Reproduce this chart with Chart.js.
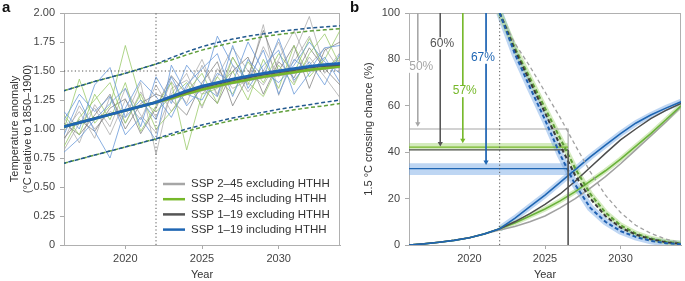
<!DOCTYPE html>
<html>
<head>
<meta charset="utf-8">
<script src="https://cdn.jsdelivr.net/npm/chart.js@4.4.0/dist/chart.umd.min.js"></script>
<style>
  html, body { margin: 0; padding: 0; background: #fff; }
  #wrap { position: relative; width: 685px; height: 281px; overflow: hidden; }
  #chartA { position: absolute; left: 0; top: 0; }
  #chartB { position: absolute; left: 345px; top: 0; }
  .tag { position: absolute; top: -2px; font: bold 15px "Liberation Sans", Arial, sans-serif; color: #111; }
</style>
</head>
<body>
<div id="wrap">
  <canvas id="chartA" width="345" height="281"></canvas>
  <canvas id="chartB" width="340" height="281"></canvas>
  <div class="tag" style="left:2px">a</div>
  <div class="tag" style="left:350px">b</div>
</div>
<script>
// ---- shared ----
const years = [2016, 2017, 2018, 2019, 2020, 2021, 2022, 2023, 2024, 2025, 2026, 2027, 2028, 2029, 2030, 2031, 2032, 2033, 2034];
const futureYears = [2022, 2023, 2024, 2025, 2026, 2027, 2028, 2029, 2030, 2031, 2032, 2033, 2034];
const xTicks = [2020, 2025, 2030];
const eruptionYear = 2022;

// ---- panel a: temperature anomaly ----
const lightGrayMembers = [
  [0.98, 1.15, 0.92, 1.28, 1.05, 1.32, 1.10, 1.41, 1.22, 1.55, 1.30, 1.62, 1.38, 1.71, 1.45, 1.58, 1.80, 1.48, 1.66],
  [1.10, 0.88, 1.21, 1.02, 1.35, 1.12, 0.97, 1.30, 1.48, 1.18, 1.52, 1.35, 1.42, 1.90, 1.29, 1.65, 1.97, 1.52, 1.60],
  [0.82, 1.05, 1.18, 0.95, 1.25, 1.08, 1.38, 1.15, 1.35, 1.60, 1.28, 1.55, 1.32, 1.50, 1.75, 1.40, 1.62, 1.45, 1.27],
  [0.90, 1.20, 1.00, 1.15, 1.10, 1.40, 0.78, 1.35, 1.42, 1.30, 1.45, 1.70, 1.50, 1.38, 1.60, 1.85, 1.55, 1.70, 1.50]
];
const darkGrayMembers = [
  [1.05, 0.95, 1.12, 1.30, 1.00, 1.22, 1.30, 1.25, 1.12, 1.40, 1.58, 1.20, 1.45, 1.85, 1.50, 1.72, 1.35, 1.68, 1.75],
  [0.92, 1.08, 0.98, 1.18, 1.26, 0.96, 1.18, 1.46, 1.30, 1.36, 1.22, 1.50, 1.62, 1.30, 1.58, 1.44, 1.70, 1.52, 1.38]
];
const greenMembers = [
  [1.00, 1.43, 1.05, 1.20, 1.72, 1.25, 1.15, 1.28, 1.40, 1.20, 1.45, 1.30, 1.58, 1.40, 1.65, 1.48, 1.78, 1.52, 1.62],
  [1.12, 0.95, 1.30, 1.08, 1.40, 0.98, 1.20, 1.40, 0.82, 1.30, 1.35, 1.50, 1.25, 1.60, 1.35, 1.72, 1.45, 1.60, 1.85],
  [0.85, 1.10, 1.25, 1.40, 1.05, 1.30, 1.00, 1.15, 1.32, 1.48, 1.22, 1.62, 1.40, 1.28, 1.55, 1.38, 1.65, 1.82, 1.55]
];
const blueMembers = [
  [1.15, 1.00, 1.38, 1.53, 1.10, 1.25, 1.08, 1.45, 1.20, 1.35, 1.80, 1.55, 1.42, 1.68, 1.30, 1.60, 1.50, 1.70, 1.72],
  [0.95, 1.25, 0.98, 0.75, 1.18, 1.42, 1.28, 1.10, 1.38, 1.52, 1.65, 1.28, 1.60, 1.45, 1.78, 1.42, 1.58, 1.38, 1.65],
  [1.08, 1.30, 1.15, 1.28, 0.95, 1.10, 0.90, 1.55, 1.30, 1.25, 1.48, 1.40, 1.75, 1.50, 1.40, 1.55, 1.75, 1.58, 1.48],
  [0.80, 0.92, 1.08, 1.22, 1.35, 1.02, 1.45, 1.22, 1.55, 1.38, 1.28, 1.72, 1.35, 1.55, 1.68, 1.30, 1.48, 1.62, 1.40]
];
const meanLightGray = [1.02, 1.055, 1.09, 1.125, 1.16, 1.195, 1.23, 1.26, 1.30, 1.335, 1.365, 1.395, 1.42, 1.445, 1.465, 1.485, 1.505, 1.52, 1.535];
const meanGreen     = [1.02, 1.055, 1.09, 1.125, 1.16, 1.195, 1.23, 1.265, 1.305, 1.34, 1.37, 1.40, 1.425, 1.45, 1.47, 1.49, 1.51, 1.525, 1.54];
const meanDarkGray  = [1.02, 1.055, 1.09, 1.125, 1.16, 1.195, 1.23, 1.275, 1.32, 1.36, 1.39, 1.42, 1.445, 1.47, 1.49, 1.51, 1.53, 1.545, 1.555];
const meanBlue      = [1.02, 1.055, 1.09, 1.125, 1.16, 1.195, 1.23, 1.28, 1.33, 1.37, 1.40, 1.43, 1.455, 1.48, 1.50, 1.52, 1.54, 1.555, 1.565];
const upperBlue  = [1.33, 1.37, 1.41, 1.445, 1.48, 1.52, 1.56, 1.615, 1.665, 1.71, 1.745, 1.775, 1.80, 1.82, 1.84, 1.855, 1.87, 1.88, 1.89];
const upperGreen = [1.33, 1.37, 1.41, 1.445, 1.48, 1.52, 1.56, 1.595, 1.64, 1.68, 1.715, 1.745, 1.77, 1.795, 1.815, 1.83, 1.845, 1.855, 1.865];
const lowerBlue  = [0.705, 0.74, 0.775, 0.81, 0.845, 0.88, 0.915, 0.96, 1.00, 1.035, 1.065, 1.095, 1.12, 1.145, 1.17, 1.19, 1.21, 1.23, 1.25];
const lowerGreen = [0.705, 0.74, 0.775, 0.81, 0.845, 0.88, 0.915, 0.945, 0.98, 1.015, 1.045, 1.075, 1.10, 1.125, 1.145, 1.165, 1.185, 1.20, 1.22];
const targetLevel = 1.5;
const legendLabels = ['SSP 2\u201345 excluding HTHH', 'SSP 2\u201345 including HTHH', 'SSP 1\u201319 excluding HTHH', 'SSP 1\u201319 including HTHH'];
const legendColors = ['#a6a6a6', '#76b82a', '#555555', '#1f66b3'];

// ---- panel b: crossing chance ----
const riseBlue  = [0, 0.5, 1.2, 2.0, 3.1, 4.8, 7, 11.5, 16.5, 21.5, 27, 32.5, 38, 43, 48, 52.5, 56, 59, 61.7];
const riseDark  = [0, 0.5, 1.2, 2.0, 3.1, 4.8, 7, 10, 13.5, 17.5, 22, 27.5, 33.5, 39.5, 45.3, 50, 54.5, 58, 61];
const riseGreen = [0, 0.5, 1.2, 2.0, 3.1, 4.8, 7, 9.5, 12.5, 15.5, 19, 23, 27.5, 32, 37, 42.5, 48, 54, 60];
const riseGray  = [0, 0.5, 1.2, 2.0, 3.1, 4.8, 6.5, 8, 10, 12.5, 16, 20, 24.5, 29.5, 35, 41, 47, 53, 59.5];
const fallBlue  = [100, 82.5, 68, 54, 39, 26, 16, 10, 6, 3.5, 1.8, 0.8, 0.3];
const fallDark  = [100, 84, 70.5, 57, 43, 30, 20, 12.5, 7.5, 4.5, 2.5, 1.2, 0.5];
const fallGreen = [100, 85, 72, 59, 46, 33, 22, 14, 8.5, 5, 2.8, 1.4, 0.6];
const fallGray  = [100, 87, 77, 66, 55, 43, 31.5, 21.5, 14, 8.5, 5, 2.5, 1];
const crossingYear = 2026.53;
const levelGray = 50, levelGreen = 42.2, levelDark = 41, levelBlue = 32.9;
const bandGreen = [40.8, 44.0];
const bandBlue = [30.2, 35.2];
const arrowYears = [2016.58, 2018.07, 2019.56, 2021.1];
const arrowEnds = [52.3, 43.8, 45.2, 35.8];
const arrowColors = ['#a6a6a6', '#555555', '#76b82a', '#1f66b3'];
const pctLabels = ['50%', '60%', '57%', '67%'];
const pctYears = [2016.81, 2018.19, 2019.69, 2020.89];
const pctValues = [76.8, 86.9, 66.3, 80.7];

Chart.defaults.font.family = '"Liberation Sans", Arial, sans-serif';
Chart.defaults.font.size = 11;
Chart.defaults.color = '#444';
Chart.defaults.animation = false;

function pts(xs, ys) { return ys.map((v, i) => ({ x: xs[i], y: v })); }
function line(data, color, width, extra) {
  return Object.assign({ data: data, borderColor: color, borderWidth: width, pointRadius: 0, fill: false, tension: 0 }, extra || {});
}
function stack(layers) { layers.forEach((d, i) => { d.order = layers.length - i; }); return layers; }

const framePlugin = {
  id: 'frame',
  beforeDatasetsDraw(chart) {
    const { ctx, chartArea: a } = chart;
    ctx.save();
    ctx.strokeStyle = '#b0b0b0';
    ctx.lineWidth = 1;
    ctx.strokeRect(Math.round(a.left) + 0.5, Math.round(a.top) + 0.5, Math.round(a.right - a.left) - 1, Math.round(a.bottom - a.top));
    ctx.restore();
  }
};

function axes(yMin, yMax, step, yTitle, yTitlePad, yFmt) {
  return {
    x: {
      type: 'linear', min: 2016, max: 2034,
      afterBuildTicks: s => { s.ticks = xTicks.map(v => ({ value: v })); },
      afterFit: s => { s.height = 36; },
      grid: { display: true, drawOnChartArea: false, drawTicks: true, tickLength: 4, color: '#aaa' },
      border: { display: true, color: '#aaa' },
      ticks: { padding: 3, callback: v => String(v) },
      title: { display: true, text: 'Year', padding: { top: 0, bottom: -1 }, color: '#333' }
    },
    y: {
      min: yMin, max: yMax,
      afterFit: s => { s.width = 64; },
      grid: { display: true, drawOnChartArea: false, drawTicks: true, tickLength: 4, color: '#aaa' },
      border: { display: true, color: '#aaa' },
      ticks: { stepSize: step, padding: 5, callback: yFmt },
      title: { display: true, text: yTitle, padding: { top: yTitlePad, bottom: 0 }, color: '#333' }
    }
  };
}

// ---- build panel a ----
const dsA = [];
lightGrayMembers.forEach(m => dsA.push(line(pts(years, m), 'rgba(170,170,170,0.85)', 0.9)));
darkGrayMembers.forEach(m => dsA.push(line(pts(years, m), 'rgba(120,120,120,0.8)', 0.9)));
greenMembers.forEach(m => dsA.push(line(pts(years, m), 'rgba(150,200,100,0.85)', 0.9)));
blueMembers.forEach(m => dsA.push(line(pts(years, m), 'rgba(100,150,215,0.85)', 0.9)));
dsA.push(line([{ x: 2016, y: targetLevel }, { x: 2034, y: targetLevel }], '#555', 1, { borderDash: [1.2, 2.4] }));
dsA.push(line([{ x: eruptionYear, y: 0 }, { x: eruptionYear, y: 2 }], '#555', 1, { borderDash: [1.2, 2.4] }));
dsA.push(line(pts(years, upperGreen), '#5f9e3a', 1.5, { borderDash: [4, 2.5] }));
dsA.push(line(pts(years, lowerGreen), '#5f9e3a', 1.5, { borderDash: [4, 2.5] }));
dsA.push(line(pts(years, upperBlue), '#22598f', 1.5, { borderDash: [4, 2.5], borderDashOffset: 2 }));
dsA.push(line(pts(years, lowerBlue), '#22598f', 1.5, { borderDash: [4, 2.5], borderDashOffset: 2 }));
dsA.push(line(pts(years, meanLightGray), '#a6a6a6', 2.2));
dsA.push(line(pts(years, meanGreen), '#76b82a', 2.6));
dsA.push(line(pts(years, meanDarkGray), '#555555', 2.2));
dsA.push(line(pts(years, meanBlue), '#1f66b3', 2.8));
stack(dsA);

const legendPlugin = {
  id: 'insideLegend',
  afterDatasetsDraw(chart) {
    const ctx = chart.ctx;
    ctx.save();
    ctx.font = '11.5px "Liberation Sans", Arial, sans-serif';
    ctx.textBaseline = 'middle';
    legendLabels.forEach((t, i) => {
      const y = 184 + i * 15.2;
      ctx.strokeStyle = legendColors[i];
      ctx.lineWidth = 2.5;
      ctx.beginPath(); ctx.moveTo(163, y); ctx.lineTo(185, y); ctx.stroke();
      ctx.fillStyle = '#333';
      ctx.fillText(t, 191, y);
    });
    ctx.restore();
  }
};

new Chart(document.getElementById('chartA'), {
  type: 'line',
  data: { datasets: dsA },
  options: {
    responsive: false,
    layout: { padding: { top: 13, right: 5, left: 0, bottom: 0 } },
    plugins: { legend: { display: false }, tooltip: { enabled: false } },
    scales: axes(0, 2, 0.25, ['Temperature anomaly', '(\u00b0C relative to 1850\u20131900)'], 8, v => v === 0 ? '0' : v.toFixed(2))
  },
  plugins: [framePlugin, legendPlugin]
});

// ---- build panel b ----
const lightBlue = 'rgba(110,165,228,0.45)';
const lightGreen = 'rgba(160,210,110,0.45)';
const dsB = [];
dsB.push(line([{ x: 2016, y: bandBlue[0] }, { x: crossingYear, y: bandBlue[0] }], 'rgba(0,0,0,0)', 0));
dsB.push(line([{ x: 2016, y: bandBlue[1] }, { x: crossingYear, y: bandBlue[1] }], 'rgba(0,0,0,0)', 0, { fill: '-1', backgroundColor: lightBlue }));
dsB.push(line([{ x: 2016, y: bandGreen[0] }, { x: crossingYear, y: bandGreen[0] }], 'rgba(0,0,0,0)', 0));
dsB.push(line([{ x: 2016, y: bandGreen[1] }, { x: crossingYear, y: bandGreen[1] }], 'rgba(0,0,0,0)', 0, { fill: '-1', backgroundColor: lightGreen }));
dsB.push(line(pts(years.slice(6), riseBlue.slice(6)), lightBlue, 6));
dsB.push(line(pts(years.slice(6), riseGreen.slice(6)), lightGreen, 5));
dsB.push(line(pts(futureYears, fallBlue), lightBlue, 7));
dsB.push(line(pts(futureYears, fallGreen), lightGreen, 5.5));
dsB.push(line([{ x: 2016, y: levelGray }, { x: crossingYear, y: levelGray }, { x: crossingYear, y: levelDark }], '#a6a6a6', 1.2));
dsB.push(line([{ x: 2016, y: levelDark }, { x: crossingYear, y: levelDark }], '#555555', 1.4));
dsB.push(line([{ x: 2016, y: levelGreen }, { x: crossingYear, y: levelGreen }], '#76b82a', 1.4));
dsB.push(line([{ x: 2016, y: levelBlue }, { x: crossingYear, y: levelBlue }], '#1f66b3', 1.4));
dsB.push(line([{ x: eruptionYear, y: 0 }, { x: eruptionYear, y: 100 }], '#555', 1, { borderDash: [1.2, 2.4] }));
dsB.push(line(pts(years, riseGray), '#a0a0a0', 1.5));
dsB.push(line(pts(years, riseGreen), '#6ab23a', 1.6));
dsB.push(line(pts(years, riseDark), '#4d4d4d', 1.5));
dsB.push(line(pts(years, riseBlue), '#1f66b3', 1.6));
dsB.push(line(pts(futureYears, fallGray), '#a0a0a0', 1.3, { borderDash: [4, 3] }));
dsB.push(line(pts(futureYears, fallGreen), '#5e9e36', 2, { borderDash: [4, 2.5] }));
dsB.push(line(pts(futureYears, fallDark), '#3a3a3a', 2, { borderDash: [4, 2.5] }));
dsB.push(line(pts(futureYears, fallBlue), '#1f5fb0', 2, { borderDash: [4, 2.5] }));
arrowYears.forEach((yr, i) => {
  dsB.push(line([{ x: yr, y: 100 }, { x: yr, y: arrowEnds[i] }], arrowColors[i], 1, {
    pointRadius: [0, 3], pointStyle: 'triangle', rotation: 180,
    pointBackgroundColor: arrowColors[i], pointBorderColor: arrowColors[i], pointBorderWidth: 0
  }));
});
dsB.push(line([{ x: crossingYear, y: levelDark }, { x: crossingYear, y: 0 }], '#555555', 1.6));
stack(dsB);

const pctPlugin = {
  id: 'pctLabels',
  afterDatasetsDraw(chart) {
    const { ctx, scales } = chart;
    ctx.save();
    ctx.font = '12px "Liberation Sans", Arial, sans-serif';
    ctx.textAlign = 'center';
    ctx.textBaseline = 'middle';
    pctLabels.forEach((t, i) => {
      const x = scales.x.getPixelForValue(pctYears[i]);
      const y = scales.y.getPixelForValue(pctValues[i]);
      const w = ctx.measureText(t).width;
      ctx.fillStyle = '#fff';
      ctx.fillRect(x - w / 2 - 1, y - 6, w + 2, 12);
      ctx.fillStyle = arrowColors[i];
      ctx.fillText(t, x, y);
    });
    ctx.restore();
  }
};

new Chart(document.getElementById('chartB'), {
  type: 'line',
  data: { datasets: dsB },
  options: {
    responsive: false,
    layout: { padding: { top: 13, right: 1, left: 0, bottom: 0 } },
    plugins: { legend: { display: false }, tooltip: { enabled: false } },
    scales: axes(0, 100, 20, '1.5 \u00b0C crossing chance (%)', 17, v => String(v))
  },
  plugins: [framePlugin, pctPlugin]
});
</script>
</body>
</html>
